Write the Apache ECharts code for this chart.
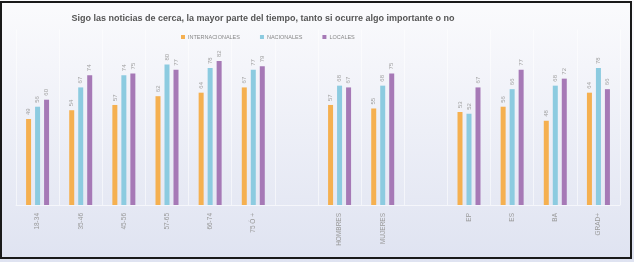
<!DOCTYPE html>
<html>
<head>
<meta charset="utf-8">
<script src="https://cdn.jsdelivr.net/npm/echarts@6/dist/echarts.min.js"></script>
<style>
html, body { margin: 0; padding: 0; background: #fff; }
#chart { width: 634px; height: 262px; }
</style>
</head>
<body>
<div id="chart"></div>
<script>
// categorias (los huecos vacios separan los bloques)
var categorias = ["18-34", "35-46", "45-56", "57-65", "66-74", "75 Ó +", "", "HOMBRES", "MUJERES", "", "EP", "ES", "BA", "GRAD+"];
var internacionales = [49, 54, 57, 62, 64, 67, "-", 57, 55, "-", 53, 56, 48, 64];
var nacionales = [56, 67, 74, 80, 78, 77, "-", 68, 68, "-", 52, 66, 68, 78];
var locales = [60, 74, 75, 77, 82, 79, "-", 67, 75, "-", 67, 77, 72, 66];

var titulo = "Sigo las noticias de cerca, la mayor parte del tiempo, tanto si ocurre algo importante o no";

var chart = echarts.init(document.getElementById("chart"));

function serie(nombre, datos, color) {
  return {
    name: nombre,
    type: "bar",
    data: datos,
    barWidth: 5,
    barGap: "80%",
    itemStyle: { color: color },
    label: {
      show: true,
      position: "top",
      rotate: 90,
      align: "left",
      verticalAlign: "middle",
      distance: 4,
      fontSize: 6,
      color: "#a0a0a0",
      fontFamily: "Liberation Sans"
    }
  };
}

chart.setOption({
  animation: false,
  backgroundColor: {
    type: "linear", x: 0, y: 0, x2: 0, y2: 1,
    colorStops: [
      { offset: 0, color: "#fbfbfd" },
      { offset: 1, color: "#dfe3f1" }
    ]
  },
  title: {
    text: titulo,
    left: 258,
    textAlign: "center",
    top: 9,
    textStyle: {
      fontSize: 9,
      fontWeight: "bold",
      color: "#555",
      fontFamily: "Liberation Sans"
    }
  },
  legend: {
    top: 29,
    left: 176,
    itemWidth: 4,
    itemHeight: 4,
    itemGap: 20,
    icon: "rect",
    textStyle: { fontSize: 5.5, color: "#888", fontFamily: "Liberation Sans", padding: [0, 0, 0, -2] },
    data: ["INTERNACIONALES", "NACIONALES", "LOCALES"]
  },
  grid: {
    left: 16,
    right: 14,
    top: 29.5,
    bottom: 57
  },
  xAxis: {
    type: "category",
    data: categorias,
    axisTick: { show: false },
    axisLine: { show: true, lineStyle: { color: "rgba(255,255,255,0.6)", width: 1 } },
    splitLine: { show: true, lineStyle: { color: "rgba(255,255,255,0.55)", width: 1 } },
    axisLabel: {
      interval: 0,
      rotate: 90,
      margin: 8,
      fontSize: 6.5,
      color: "#999",
      fontFamily: "Liberation Sans"
    }
  },
  yAxis: {
    type: "value",
    min: 0,
    max: 100,
    show: false,
    splitLine: { show: false }
  },
  graphic: [{
    type: "rect",
    shape: { x: 1, y: 2, width: 630, height: 256 },
    style: { fill: "none", stroke: "#1a1a1a", lineWidth: 2 },
    z: 100
  }],
  series: [
    serie("INTERNACIONALES", internacionales, "#f5b050"),
    serie("NACIONALES", nacionales, "#8ccbe0"),
    serie("LOCALES", locales, "#a679b6")
  ]
});
</script>
</body>
</html>
